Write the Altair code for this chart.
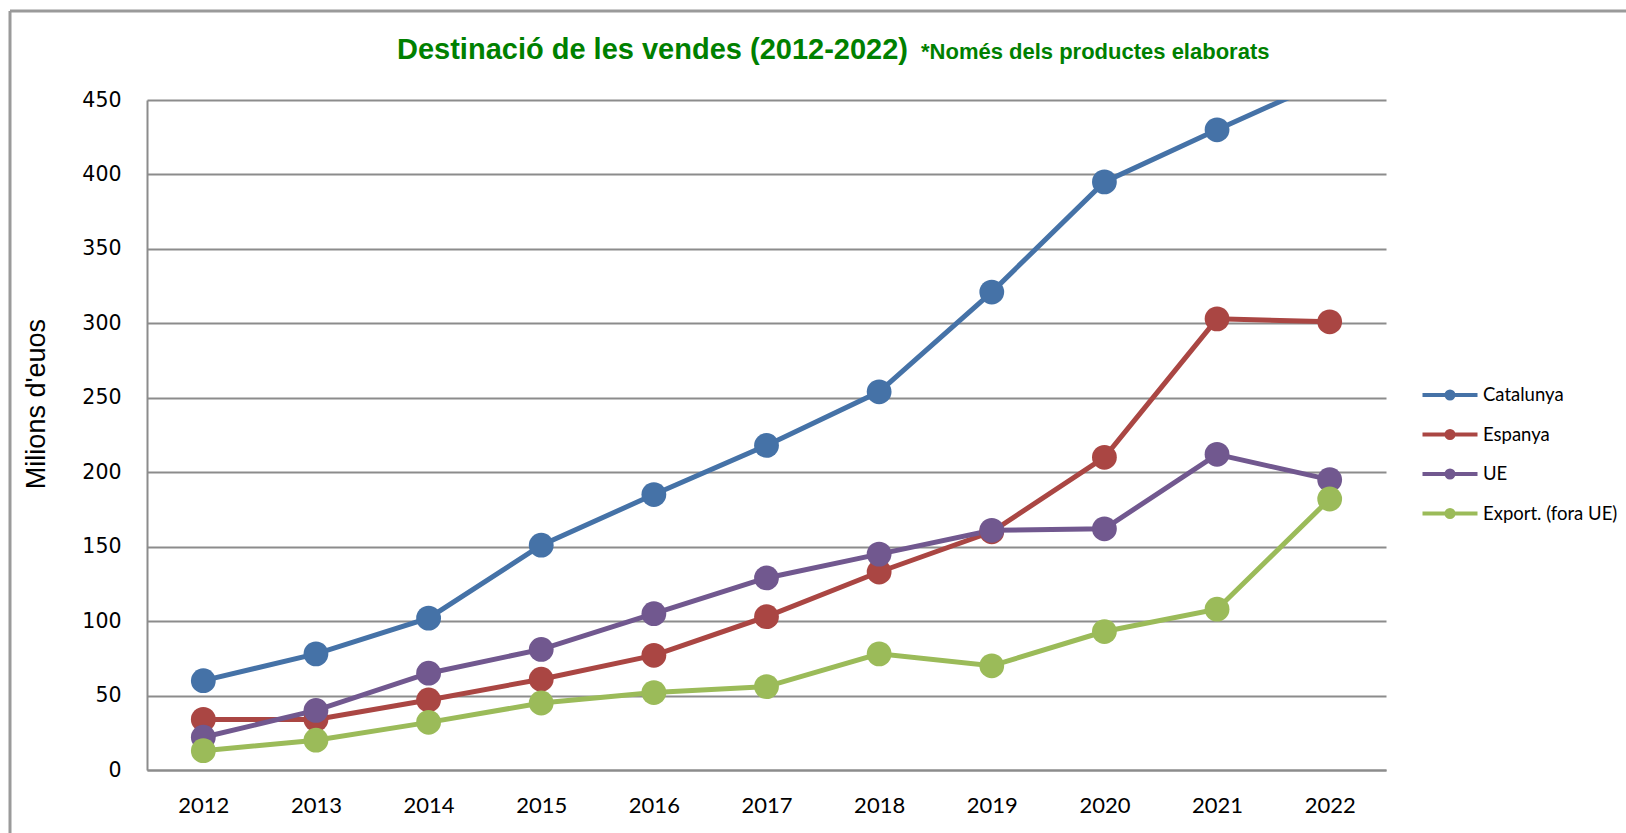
import altair as alt
import pandas as pd

years = [2012, 2013, 2014, 2015, 2016, 2017, 2018, 2019, 2020, 2021, 2022]
series_names = ["Catalunya", "Espanya", "UE", "Export. (fora UE)"]
catalunya = [60, 78, 102, 151, 185, 218, 254, 321, 395, 430, 464]
espanya = [34, 34, 47, 61, 77, 103, 133, 160, 210, 303, 301]
ue = [22, 40, 65, 81, 105, 129, 145, 161, 162, 212, 195]
export = [13, 20, 32, 45, 52, 56, 78, 70, 93, 108, 182]
colors = ["#4572A7", "#AA4643", "#71588F", "#9BBB59"]

rows = []
for name, vals in zip(series_names, [catalunya, espanya, ue, export]):
    for y, v in zip(years, vals):
        rows.append({"Any": str(y), "Valor": v, "Sèrie": name, "ordre": series_names.index(name)})
df = pd.DataFrame(rows)

W, H = 1239, 670
PL, PT = 147, 100

color = alt.Color(
    "Sèrie:N",
    scale=alt.Scale(domain=series_names, range=colors),
    sort=series_names,
    legend=alt.Legend(
        title=None,
        orient="none",
        legendX=1291,
        legendY=283,
        symbolType="M-2.75,0 L2.75,0 M-0.35,0 A0.35,0.35 0 1,1 0.35,0 A0.35,0.35 0 1,1 -0.35,0",
        symbolSize=400,
        symbolStrokeWidth=4,
        labelOffset=21,
        labelFont="Lato",
        labelFontSize=18.5,
        labelColor="#000000",
        rowPadding=15.5,
        padding=0,
    ),
)

base = alt.Chart(df).encode(
    x=alt.X(
        "Any:O",
        scale=alt.Scale(type="point", padding=0.5),
        axis=alt.Axis(
            title=None,
            labelAngle=0,
            ticks=False,
            grid=False,
            domainColor="#8c8c8c",
            domainWidth=2,
            labelFont="Lato",
            labelFontSize=22,
            labelColor="#000000",
            labelPadding=25,
        ),
    ),
    y=alt.Y(
        "Valor:Q",
        scale=alt.Scale(domain=[0, 450], nice=False),
        axis=alt.Axis(
            title=None,
            values=list(range(0, 451, 50)),
            ticks=False,
            grid=True,
            gridColor="#8c8c8c",
            gridWidth=2,
            domainColor="#8c8c8c",
            domainWidth=2,
            labelFont="DejaVu Sans",
            labelFontSize=20.5,
            labelColor="#000000",
            labelPadding=26,
        ),
    ),
    color=color,
    order=alt.Order("ordre:Q"),
)

lines = base.mark_line(
    strokeWidth=5,
    clip=True,
    point=alt.OverlayMarkDef(filled=True, size=615, opacity=1, clip=True),
)

deco = pd.DataFrame({"k": [0]})

frame_left = alt.Chart(deco).mark_rule(color="#9a9a9a", strokeWidth=3).encode(
    x=alt.value(10 - PL), y=alt.value(11 - PT), y2=alt.value(833 - PT + 5)
)
frame_top = alt.Chart(deco).mark_rule(color="#9a9a9a", strokeWidth=3).encode(
    x=alt.value(10 - PL), x2=alt.value(1626 - PL + 5), y=alt.value(11 - PT)
)

title1 = alt.Chart(deco).mark_text(
    text="Destinació de les vendes (2012-2022)",
    font="Liberation Sans",
    fontWeight="bold",
    fontSize=29,
    color="#008000",
    align="left",
    baseline="alphabetic",
).encode(x=alt.value(397 - PL), y=alt.value(59 - PT))

title2 = alt.Chart(deco).mark_text(
    text="*Només dels productes elaborats",
    font="Liberation Sans",
    fontWeight="bold",
    fontSize=22,
    color="#008000",
    align="left",
    baseline="alphabetic",
).encode(x=alt.value(921 - PL), y=alt.value(59 - PT))

ytitle = alt.Chart(deco).mark_text(
    text="Milions d'euos",
    font="Liberation Sans",
    fontSize=27,
    color="#000000",
    angle=270,
    align="center",
    baseline="middle",
).encode(x=alt.value(37 - PL), y=alt.value(404 - PT))

chart = (
    alt.layer(frame_left, frame_top, lines, title1, title2, ytitle)
    .properties(
        width=W,
        height=H,
        autosize=alt.AutoSizeParams(type="none"),
        padding={"left": PL, "top": PT, "right": 1626 - PL - W, "bottom": 833 - PT - H},
        background="#ffffff",
    )
    .configure_view(stroke=None)
)

chart.save("out.html", embed_options={"renderer": "svg", "actions": False})
